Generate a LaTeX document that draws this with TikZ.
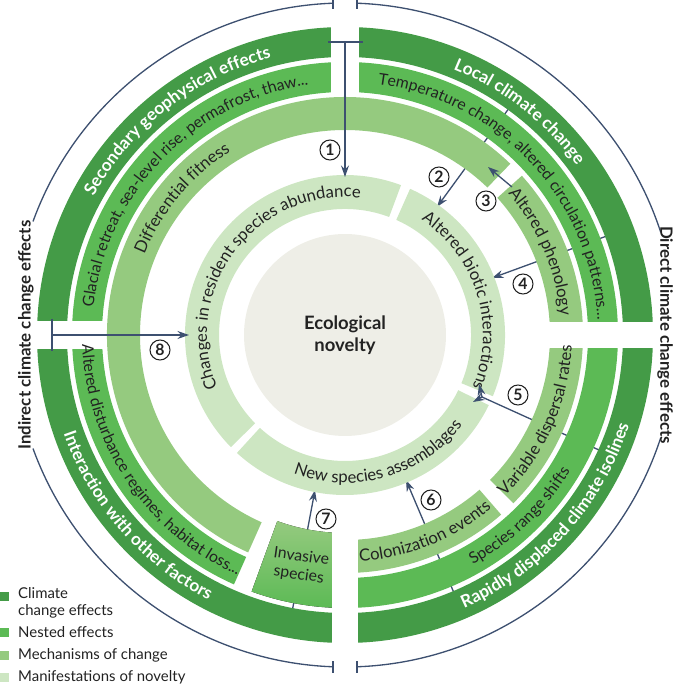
\documentclass[tikz,border=0pt]{standalone}
\usepackage{fontspec}
\setmainfont{Lato}
\usetikzlibrary{arrows.meta,decorations.text}
\definecolor{climgreen}{HTML}{449B47}
\definecolor{nestgreen}{HTML}{5CBA55}
\definecolor{mechgreen}{HTML}{95CA7F}
\definecolor{novgreen}{HTML}{CDE6C2}
\definecolor{coregrey}{HTML}{EEEEE7}
\definecolor{slate}{HTML}{3D5070}
\definecolor{inktext}{HTML}{222222}
% annular sector: style, start angle, end angle, inner radius, outer radius
\newcommand{\bandsector}[5]{\fill[#1] (#2:#4) arc[start angle=#2, end angle=#3, radius=#4] -- (#3:#5) arc[start angle=#3, end angle=#2, radius=#5] -- cycle;}
% text along a ring, clockwise (tops outward) or counter-clockwise (tops inward)
\newcommand{\cwtext}[3]{\path[decorate, decoration={text along path, text align=center, text={#3}}] (#1+80:#2) arc[start angle=#1+80, end angle=#1-80, radius=#2];}
\newcommand{\ccwtext}[3]{\path[decorate, decoration={text along path, text align=center, text={#3}}] (#1-80:#2) arc[start angle=#1-80, end angle=#1+80, radius=#2];}
\begin{document}
\begin{tikzpicture}[x=0.02cm, y=0.02cm,
  link/.style={slate, line width=0.75pt},
  arrowlink/.style={link, -{Stealth[length=6.5pt, width=4.5pt]}},
  stepmark/.style={circle, draw=inktext, fill=white, line width=0.6pt, minimum size=0.4cm, inner sep=0pt, font=\fontsize{9}{9}\selectfont\bfseries, text=inktext},
  sidelabel/.style={font=\fontsize{9.6}{10}\selectfont\bfseries, text=inktext},
  key/.style={font=\fontsize{8.5}{10}\selectfont, text=inktext, anchor=west, align=left},
  swatch/.style={minimum size=0.18cm, inner sep=0pt, anchor=west}]
\useasboundingbox (-345,-350) rectangle (337,335);

% links running behind the rings
\coordinate (s2) at (170,235);  \coordinate (t2) at (92,128);
\coordinate (s4) at (270,102);  \coordinate (t4) at (147,57);
\coordinate (s5) at (265,-120); \coordinate (f5) at (137,-62);
\coordinate (s6) at (112,-265); \coordinate (t6) at (61,-145);
\coordinate (s7) at (-53,-277); \coordinate (t7) at (-30,-155);
\draw[arrowlink] (s2) -- (t2);
\draw[arrowlink] (s4) -- (t4);
\draw[link] (s5) -- (f5);
\draw[arrowlink] (s6) -- (t6);
\draw[arrowlink] (s7) -- (t7);

% climate change effects and nested effects
\bandsector{climgreen}{0}{360}{278}{308}
\bandsector{nestgreen}{-90}{180}{243}{273}
\bandsector{nestgreen}{180}{246}{243}{273}
% mechanisms of change
\bandsector{mechgreen}{46}{246}{205}{238}
\bandsector{mechgreen}{0}{42}{205}{238}
\bandsector{mechgreen}{-45}{0}{205}{238}
\bandsector{mechgreen}{-90}{-49}{205}{238}
\bandsector{top color=mechgreen, bottom color=nestgreen}{250}{270}{198}{273}
% gaps between the quadrants
\fill[white] (-14,240) rectangle (14,320);
\fill[white] (-340,-14) rectangle (-240,14);
\fill[white] (195,-13) rectangle (340,13);
\fill[white] (-13,-340) rectangle (13,-195);
% manifestations of novelty
\bandsector{novgreen}{69.5}{224.5}{126}{160}
\bandsector{novgreen}{227.5}{334}{126}{160}
\bandsector{novgreen}{-22.5}{66}{126}{160}
\fill[coregrey] (0,0) circle (101);
\node[font=\fontsize{10.5}{12.5}\selectfont\bfseries, text=inktext, align=center] (core) at (0,0) {Ecological\\novelty};

% ring texts
\cwtext{128}{287}{|\fontsize{9.8}{10}\selectfont\bfseries\color{white}|Secondary geophysical effects}
\cwtext{52}{287}{|\fontsize{9.8}{10}\selectfont\bfseries\color{white}|Local climate change}
\ccwtext{318}{298}{|\fontsize{9.8}{10}\selectfont\bfseries\color{white}|Rapidly displaced climate isolines}
\ccwtext{221}{298}{|\fontsize{9.8}{10}\selectfont\bfseries\color{white}|Interaction with other factors}
\cwtext{136}{253}{|\fontsize{9}{10}\selectfont\color{inktext}|Glacial retreat, sea-level rise, permafrost, thaw...}
\cwtext{43}{253}{|\fontsize{9}{10}\selectfont\color{inktext}|Temperature change, altered circulation patterns...}
\ccwtext{314}{263}{|\fontsize{9}{10}\selectfont\color{inktext}|Species range shifts}
\ccwtext{214}{263}{|\fontsize{9}{10}\selectfont\color{inktext}|Altered disturbance regimes, habitat loss...}
\cwtext{140}{216}{|\fontsize{9.5}{10}\selectfont\color{inktext}|Differential fitness}
\cwtext{23}{216}{|\fontsize{9.5}{10}\selectfont\color{inktext}|Altered phenology}
\ccwtext{336}{227}{|\fontsize{9.5}{10}\selectfont\color{inktext}|Variable dispersal rates}
\ccwtext{292}{227}{|\fontsize{9.5}{10}\selectfont\color{inktext}|Colonization events}
\cwtext{143}{138}{|\fontsize{9.5}{10}\selectfont\color{inktext}|Changes in resident species abundance}
\cwtext{17}{138}{|\fontsize{9.5}{10}\selectfont\color{inktext}|Altered biotic interactions}
\ccwtext{286}{148}{|\fontsize{9.5}{10}\selectfont\color{inktext}|New species assemblages}
\node[font=\fontsize{9}{10.5}\selectfont, text=inktext, align=center, rotate=-8] (invasive) at (-45,-231) {Invasive\\species};

% links drawn over the rings
\coordinate (bar1a) at (-17,293); \coordinate (bar1b) at (18,293);
\coordinate (s1) at (0,293); \coordinate (t1) at (0,158);
\coordinate (bar8a) at (-293,16); \coordinate (bar8b) at (-293,-16);
\coordinate (s8) at (-293,0); \coordinate (t8) at (-156,0);
\coordinate (s3) at (167,148); \coordinate (t3) at (143,168);
\coordinate (t5a) at (134,-49); \coordinate (t5b) at (128,-67);
\draw[link] (bar1a) -- (bar1b);
\draw[arrowlink] (s1) -- (t1);
\draw[link] (bar8a) -- (bar8b);
\draw[arrowlink] (s8) -- (t8);
\draw[arrowlink] (s3) -- (t3);
\draw[arrowlink] (f5) -- (t5a);
\draw[arrowlink] (f5) -- (t5b);

% step numbers
\node[stepmark] (n1) at (-15,185) {1};
\node[stepmark] (n2) at (94,158) {2};
\node[stepmark] (n3) at (141,134) {3};
\node[stepmark] (n4) at (178,51) {4};
\node[stepmark] (n5) at (173,-60) {5};
\node[stepmark] (n6) at (86,-165) {6};
\node[stepmark] (n7) at (-19,-184) {7};
\node[stepmark] (n8) at (-185,-15) {8};

% outer circle with its two labels
\draw[link] (88:332) arc[start angle=88, end angle=18, radius=332];
\draw[link] (-18:332) arc[start angle=-18, end angle=-88, radius=332];
\draw[link] (-92:332) arc[start angle=-92, end angle=-160, radius=332];
\draw[link] (160:332) arc[start angle=160, end angle=92, radius=332];
\draw[link] (-12,326) -- (-12,337);
\draw[link] (12,326) -- (12,337);
\draw[link] (-12,-326) -- (-12,-338);
\draw[link] (12,-326) -- (12,-338);
\node[sidelabel, rotate=90] (indirect) at (-319,0) {Indirect climate change effects};
\node[sidelabel, rotate=-90] (direct) at (320,0) {Direct climate change effects};

% key
\node[swatch, fill=climgreen] (k1) at (-345,-261) {};
\node[key] (k1t) at (-333,-268) {Climate\\change effects};
\node[swatch, fill=nestgreen] (k2) at (-345,-297) {};
\node[key] (k2t) at (-333,-297) {Nested effects};
\node[swatch, fill=mechgreen] (k3) at (-345,-320) {};
\node[key] (k3t) at (-333,-320) {Mechanisms of change};
\node[swatch, fill=novgreen] (k4) at (-345,-342) {};
\node[key] (k4t) at (-333,-342) {Manifestations of novelty};
\end{tikzpicture}
\end{document}
